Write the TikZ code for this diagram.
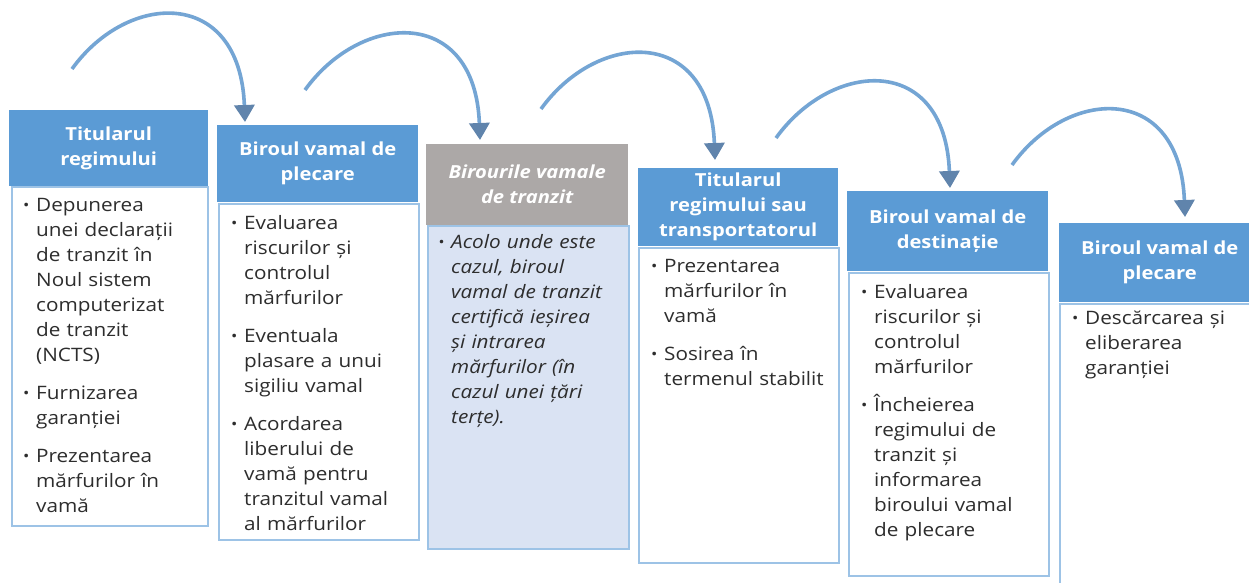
\documentclass[tikz,border=0pt]{standalone}
\usepackage{fontspec}
\setmainfont{Open Sans}[FakeStretch=1.12]
\usetikzlibrary{arrows.meta,calc}
\definecolor{hdrblue}{RGB}{91,155,213}
\definecolor{hdrgray}{RGB}{172,168,167}
\definecolor{boxline}{RGB}{157,195,230}
\definecolor{paleblue}{RGB}{218,227,243}
\definecolor{txt}{RGB}{45,45,45}
\definecolor{arcline}{RGB}{116,165,212}
\definecolor{arctip}{RGB}{96,132,172}
\newcommand{\smallbul}{{\fontsize{15}{15}\selectfont\raisebox{1pt}{•}}}
\newcommand{\bitem}[1]{\noindent\makebox[13pt][l]{\smallbul}\begin{tabular}[t]{@{}l@{}}#1\end{tabular}\par}
\newcommand{\bgap}{\vspace{12pt}}
\tikzset{
  hdr/.style={fill=hdrblue, text=white, font=\bfseries\fontsize{18}{25}\selectfont, align=center, inner sep=0pt, anchor=north west},
  hdrg/.style={hdr, fill=hdrgray, font=\bfseries\itshape\fontsize{18}{25}\selectfont},
  bodybox/.style={draw=boxline, line width=1.5pt, fill=white, anchor=north west, inner sep=0pt},
  bodytxt/.style={anchor=north west, inner sep=0pt, text width=#1, font=\fontsize{18.5}{25}\selectfont, text=txt},
  flow/.style={draw=arcline, line width=3.6pt, -{Triangle[width=20pt,length=17pt,color=arctip]}},
}
\begin{document}
\begin{tikzpicture}[x=1pt,y=-1pt]
\useasboundingbox (0,0) rectangle (1249,583);
\fill[white] (0,0) rectangle (1249,583);
% column 1
\node[bodybox, minimum width=196, minimum height=339] (b1) at (11,186) {};
\node[hdr, minimum width=199, minimum height=76] (h1) at (9,110) {Titularul\\regimului};
\node[bodytxt=190] (t1) at ($(b1.north west)+(12,7.5)$) {%
\bitem{Depunerea\\unei declarații\\de tranzit în\\Noul sistem\\computerizat\\de tranzit\\(NCTS)}\bgap
\bitem{Furnizarea\\garanției}\bgap
\bitem{Prezentarea\\mărfurilor în\\vamă}};
% column 2
\node[bodybox, minimum width=200, minimum height=336] (b2) at (218,203) {};
\node[hdr, minimum width=201, minimum height=77] (h2) at (217,125) {Biroul vamal de\\plecare};
\node[bodytxt=190] (t2) at ($(b2.north west)+(13,8.5)$) {%
\bitem{Evaluarea\\riscurilor și\\controlul\\mărfurilor}\bgap
\bitem{Eventuala\\plasare a unui\\sigiliu vamal}\bgap
\bitem{Acordarea\\liberului de\\vamă pentru\\tranzitul vamal\\al mărfurilor}};
% column 3
\node[bodybox, fill=paleblue, minimum width=201, minimum height=323] (b3) at (427,225) {};
\node[hdrg, minimum width=202, minimum height=81] (h3) at (426,144) {Birourile vamale\\de tranzit};
\node[bodytxt=190, font=\itshape\fontsize{18.5}{25}\selectfont] (t3) at ($(b3.north west)+(11,6)$) {%
\bitem{Acolo unde este\\cazul, biroul\\vamal de tranzit\\certifică ieșirea\\și intrarea\\mărfurilor (în\\cazul unei țări\\terțe).}};
% column 4
\node[bodybox, minimum width=200, minimum height=315] (b4) at (638,247) {};
\node[hdr, minimum width=200, minimum height=78] (h4) at (638,168) {Titularul\\regimului sau\\transportatorul};
\node[bodytxt=190] (t4) at ($(b4.north west)+(13,8)$) {%
\bitem{Prezentarea\\mărfurilor în\\vamă}\bgap
\bitem{Sosirea în\\termenul stabilit}};
% column 5
\node[bodybox, minimum width=200, minimum height=303] (b5) at (848,272) {};
\node[hdr, minimum width=201, minimum height=80] (h5) at (847,191) {Biroul vamal de\\destinație};
\node[bodytxt=190] (t5) at ($(b5.north west)+(13,8.5)$) {%
\bitem{Evaluarea\\riscurilor și\\controlul\\mărfurilor}\bgap
\bitem{Încheierea\\regimului de\\tranzit și\\informarea\\biroului vamal\\de plecare}};
% column 6 (cut by the right edge)
\begin{scope}
\clip (0,0) rectangle (1249,583);
\node[bodybox, minimum width=201, minimum height=290] (b6) at (1059,303) {};
\node[hdr, minimum width=201, minimum height=79] (h6) at (1059,223) {Biroul vamal de\\plecare};
\node[bodytxt=190] (t6) at ($(b6.north west)+(13,4)$) {%
\bitem{Descărcarea și\\eliberarea\\garanției}};
\end{scope}
% curved arrows
\coordinate (s1) at (72,69);
\coordinate (e1) at ($(h2.north west)+(28,-3)$);
\coordinate (s2) at (305,90);
\coordinate (e2) at ($(h3.north west)+(54,-4)$);
\coordinate (s3) at (541,109);
\coordinate (e3) at ($(h4.north west)+(77,-8)$);
\coordinate (s4) at (776,138);
\coordinate (e4) at ($(h5.north west)+(103,-3)$);
\coordinate (s5) at (1012,165);
\coordinate (e5) at ($(h6.north west)+(126,-6)$);
\foreach \i in {1,...,5}{
  \draw[flow] (s\i) .. controls ($(s\i)+(56,-78)$) and ($(e\i)+(-5,-135)$) .. (e\i);
}
\end{tikzpicture}
\end{document}
